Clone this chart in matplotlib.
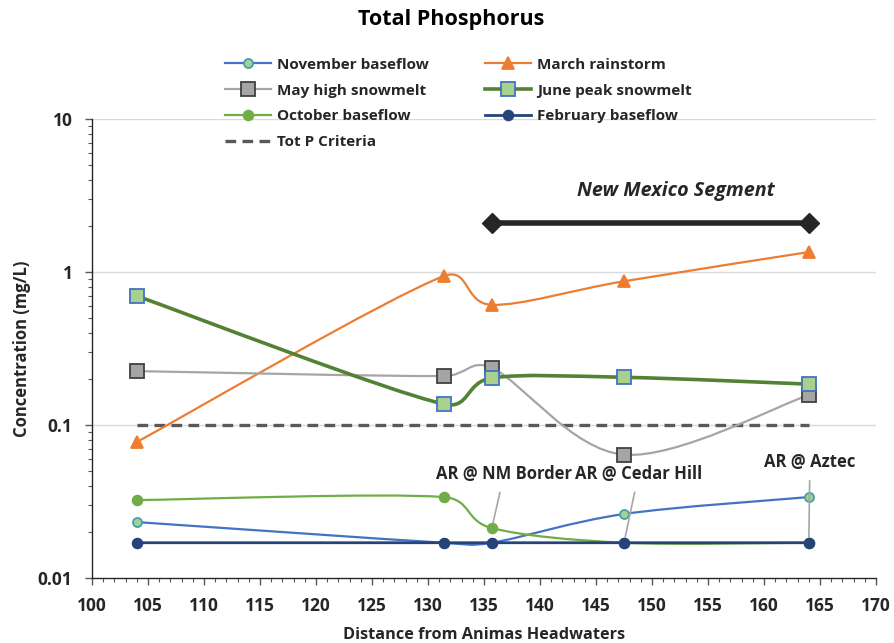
import numpy as np
import matplotlib
matplotlib.use("Agg")
import matplotlib.pyplot as plt
from matplotlib.path import Path
from matplotlib.patches import PathPatch
from matplotlib.lines import Line2D
from matplotlib.ticker import FixedLocator, NullFormatter, LogLocator

plt.rcParams['font.family'] = ['Open Sans', 'DejaVu Sans']

# River mile of each sampling site (distance from Animas headwaters)
distance = [104.0, 131.4, 135.7, 147.5, 164.0]

# Total phosphorus (mg/L) per sampling event
nov_baseflow = [0.0232, 0.0170, 0.0170, 0.0262, 0.0338]
mar_rainstorm = [0.0774, 0.94, 0.61, 0.87, 1.35]
may_snowmelt = [0.225, 0.209, 0.236, 0.064, 0.157]
jun_snowmelt = [0.697, 0.137, 0.203, 0.205, 0.185]
oct_baseflow = [0.0323, 0.0338, 0.0212, 0.0170, 0.0170]
feb_baseflow = [0.0170, 0.0170, 0.0170, 0.0170, 0.0170]

criteria_value = 0.1
criteria_range = [104.0, 164.0]

nm_segment_range = [135.7, 164.0]
nm_segment_level = 2.1

site_labels = ["AR @ NM Border", "AR @ Cedar Hill", "AR @ Aztec"]
site_label_points = [(135.7, 0.0212), (147.5, 0.0170), (164.0, 0.0170)]

x_ticks = list(range(100, 171, 5))
y_ticks = [0.01, 0.1, 1, 10]
y_tick_labels = ["0.01", "0.1", "1", "10"]

W, H = 894, 643
fig = plt.figure(figsize=(W / 100, H / 100), dpi=100)
ax = fig.add_axes([92 / W, 1 - 578 / H, (876 - 92) / W, (578 - 119) / H])
ax.set_yscale('log')
ax.set_xlim(100, 170)
ax.set_ylim(0.01, 10)


def smooth_path(xs, ys):
    """Bezier curve through the points, built in display space the way
    spreadsheet 'smoothed lines' are, then mapped back to data coords."""
    pts = ax.transData.transform(np.column_stack([xs, ys]))
    n = len(pts)
    verts = [pts[0]]
    codes = [Path.MOVETO]
    for i in range(n - 1):
        p0 = pts[i - 1] if i > 0 else pts[i]
        p1 = pts[i]
        p2 = pts[i + 1]
        p3 = pts[i + 2] if i + 2 < n else pts[i + 1]
        d12 = np.hypot(*(p2 - p1))
        t1 = (p2 - p0) / 6.0
        t2 = (p3 - p1) / 6.0
        l1 = np.hypot(*t1)
        l2 = np.hypot(*t2)
        if l1 > d12 / 2 and l1 > 0:
            t1 = t1 * (d12 / 2) / l1
        if l2 > d12 / 2 and l2 > 0:
            t2 = t2 * (d12 / 2) / l2
        verts += [p1 + t1, p2 - t2, p2]
        codes += [Path.CURVE4] * 3
    data_verts = ax.transData.inverted().transform(np.array(verts))
    return Path(data_verts, codes)


series = [
    # label, values, line colour, lw, marker, size, face, edge
    ("November baseflow", nov_baseflow, "#4472C4", 1.6, "o", 6.5, "#A9D18E", "#41A0B0"),
    ("March rainstorm", mar_rainstorm, "#ED7D31", 1.6, "^", 8.5, "#ED7D31", "#ED7D31"),
    ("May high snowmelt", may_snowmelt, "#A5A5A5", 1.6, "s", 9.5, "#A5A5A5", "#404040"),
    ("June peak snowmelt", jun_snowmelt, "#548235", 2.6, "s", 9.5, "#A9D18E", "#4472C4"),
    ("October baseflow", oct_baseflow, "#70AD47", 1.6, "o", 7, "#70AD47", "#70AD47"),
    ("February baseflow", feb_baseflow, "#264478", 2.0, "o", 7, "#264478", "#264478"),
]

# grid lines at the decades
for yv in y_ticks[1:]:
    ax.axhline(yv, color="#D9D9D9", lw=1.0, zorder=0)

handles = {}
z = 3
for label, vals, col, lw, mk, ms, fc, ec in series:
    patch = PathPatch(smooth_path(distance, vals), facecolor="none",
                      edgecolor=col, lw=lw, zorder=z, capstyle='round')
    ax.add_patch(patch)
    ax.plot(distance, vals, ls="none", marker=mk, ms=ms, mfc=fc, mec=ec,
            mew=1.3, zorder=z + 0.5)
    handles[label] = Line2D([], [], color=col, lw=lw, marker=mk, ms=ms,
                            mfc=fc, mec=ec, mew=1.3)
    z += 1

ax.plot(criteria_range, [criteria_value] * 2, color="#595959",
        lw=2.4, ls=(0, (3.2, 1.9)), zorder=2)
handles["Tot P Criteria"] = Line2D([], [], color="#595959", lw=2.4,
                                   ls=(0, (3.2, 1.9)))

# New Mexico segment bar
ax.plot(nm_segment_range, [nm_segment_level] * 2, color="#262626", lw=4,
        marker="D", ms=10, zorder=10)
ax.text(152.1, 3.4, "New Mexico Segment", ha="center",
        va="center", fontsize=14.2, fontweight="bold", style="italic",
        color="#262626")

# site call-outs
label_pos = [(136.8, 0.048), (148.8, 0.048), (164.1, 0.0573)]
for txt, (px, py), (tx, ty) in zip(site_labels, site_label_points, label_pos):
    ax.annotate(txt, xy=(px, py), xytext=(tx, ty), ha="center", va="center",
                fontsize=12, fontweight="bold", color="#262626",
                arrowprops=dict(arrowstyle="-", color="#A6A6A6", lw=1.2,
                                shrinkA=5, shrinkB=4), zorder=12)

# axes styling
for s in ("top", "right"):
    ax.spines[s].set_visible(False)
for s in ("left", "bottom"):
    ax.spines[s].set_color("#262626")
    ax.spines[s].set_linewidth(1.0)

ax.set_xticks(x_ticks)
ax.xaxis.set_minor_locator(FixedLocator(np.arange(100, 171, 1)))
ax.yaxis.set_major_locator(FixedLocator(y_ticks))
ax.set_yticklabels(y_tick_labels)
ax.yaxis.set_minor_locator(LogLocator(base=10, subs=np.arange(2, 10), numticks=20))
ax.yaxis.set_minor_formatter(NullFormatter())
ax.tick_params(axis="both", which="major", direction="out", length=5,
               width=1, color="#595959", labelsize=12.5, labelcolor="#262626")
ax.tick_params(axis="x", which="major", pad=9)
ax.tick_params(axis="y", which="major", pad=9)
ax.tick_params(axis="both", which="minor", direction="out", length=3,
               width=0.8, color="#595959")
for t in ax.get_xticklabels() + ax.get_yticklabels():
    t.set_fontweight("bold")

ax.set_xlabel("Distance from Animas Headwaters", fontsize=11.7, fontweight="bold",
              color="#262626", labelpad=8)
ax.set_ylabel("Concentration (mg/L)", fontsize=12, fontweight="bold",
              color="#262626", labelpad=5)

fig.text(451 / W, 1 - 20 / H, "Total Phosphorus", ha="center", va="center",
         fontsize=15.5, fontweight="bold", color="#000000")

order = ["November baseflow", "May high snowmelt", "October baseflow",
         "Tot P Criteria", "March rainstorm", "June peak snowmelt",
         "February baseflow"]
leg = fig.legend([handles[k] for k in order], order, ncol=2,
                 loc="upper left", bbox_to_anchor=(211 / W, 1 - 44 / H),
                 frameon=False, fontsize=11, handlelength=3.0,
                 handletextpad=0.4, columnspacing=3.7, labelspacing=0.77,
                 numpoints=1)
for t in leg.get_texts():
    t.set_fontweight("bold")
    t.set_color("#262626")

fig.savefig("out.png", dpi=100)
